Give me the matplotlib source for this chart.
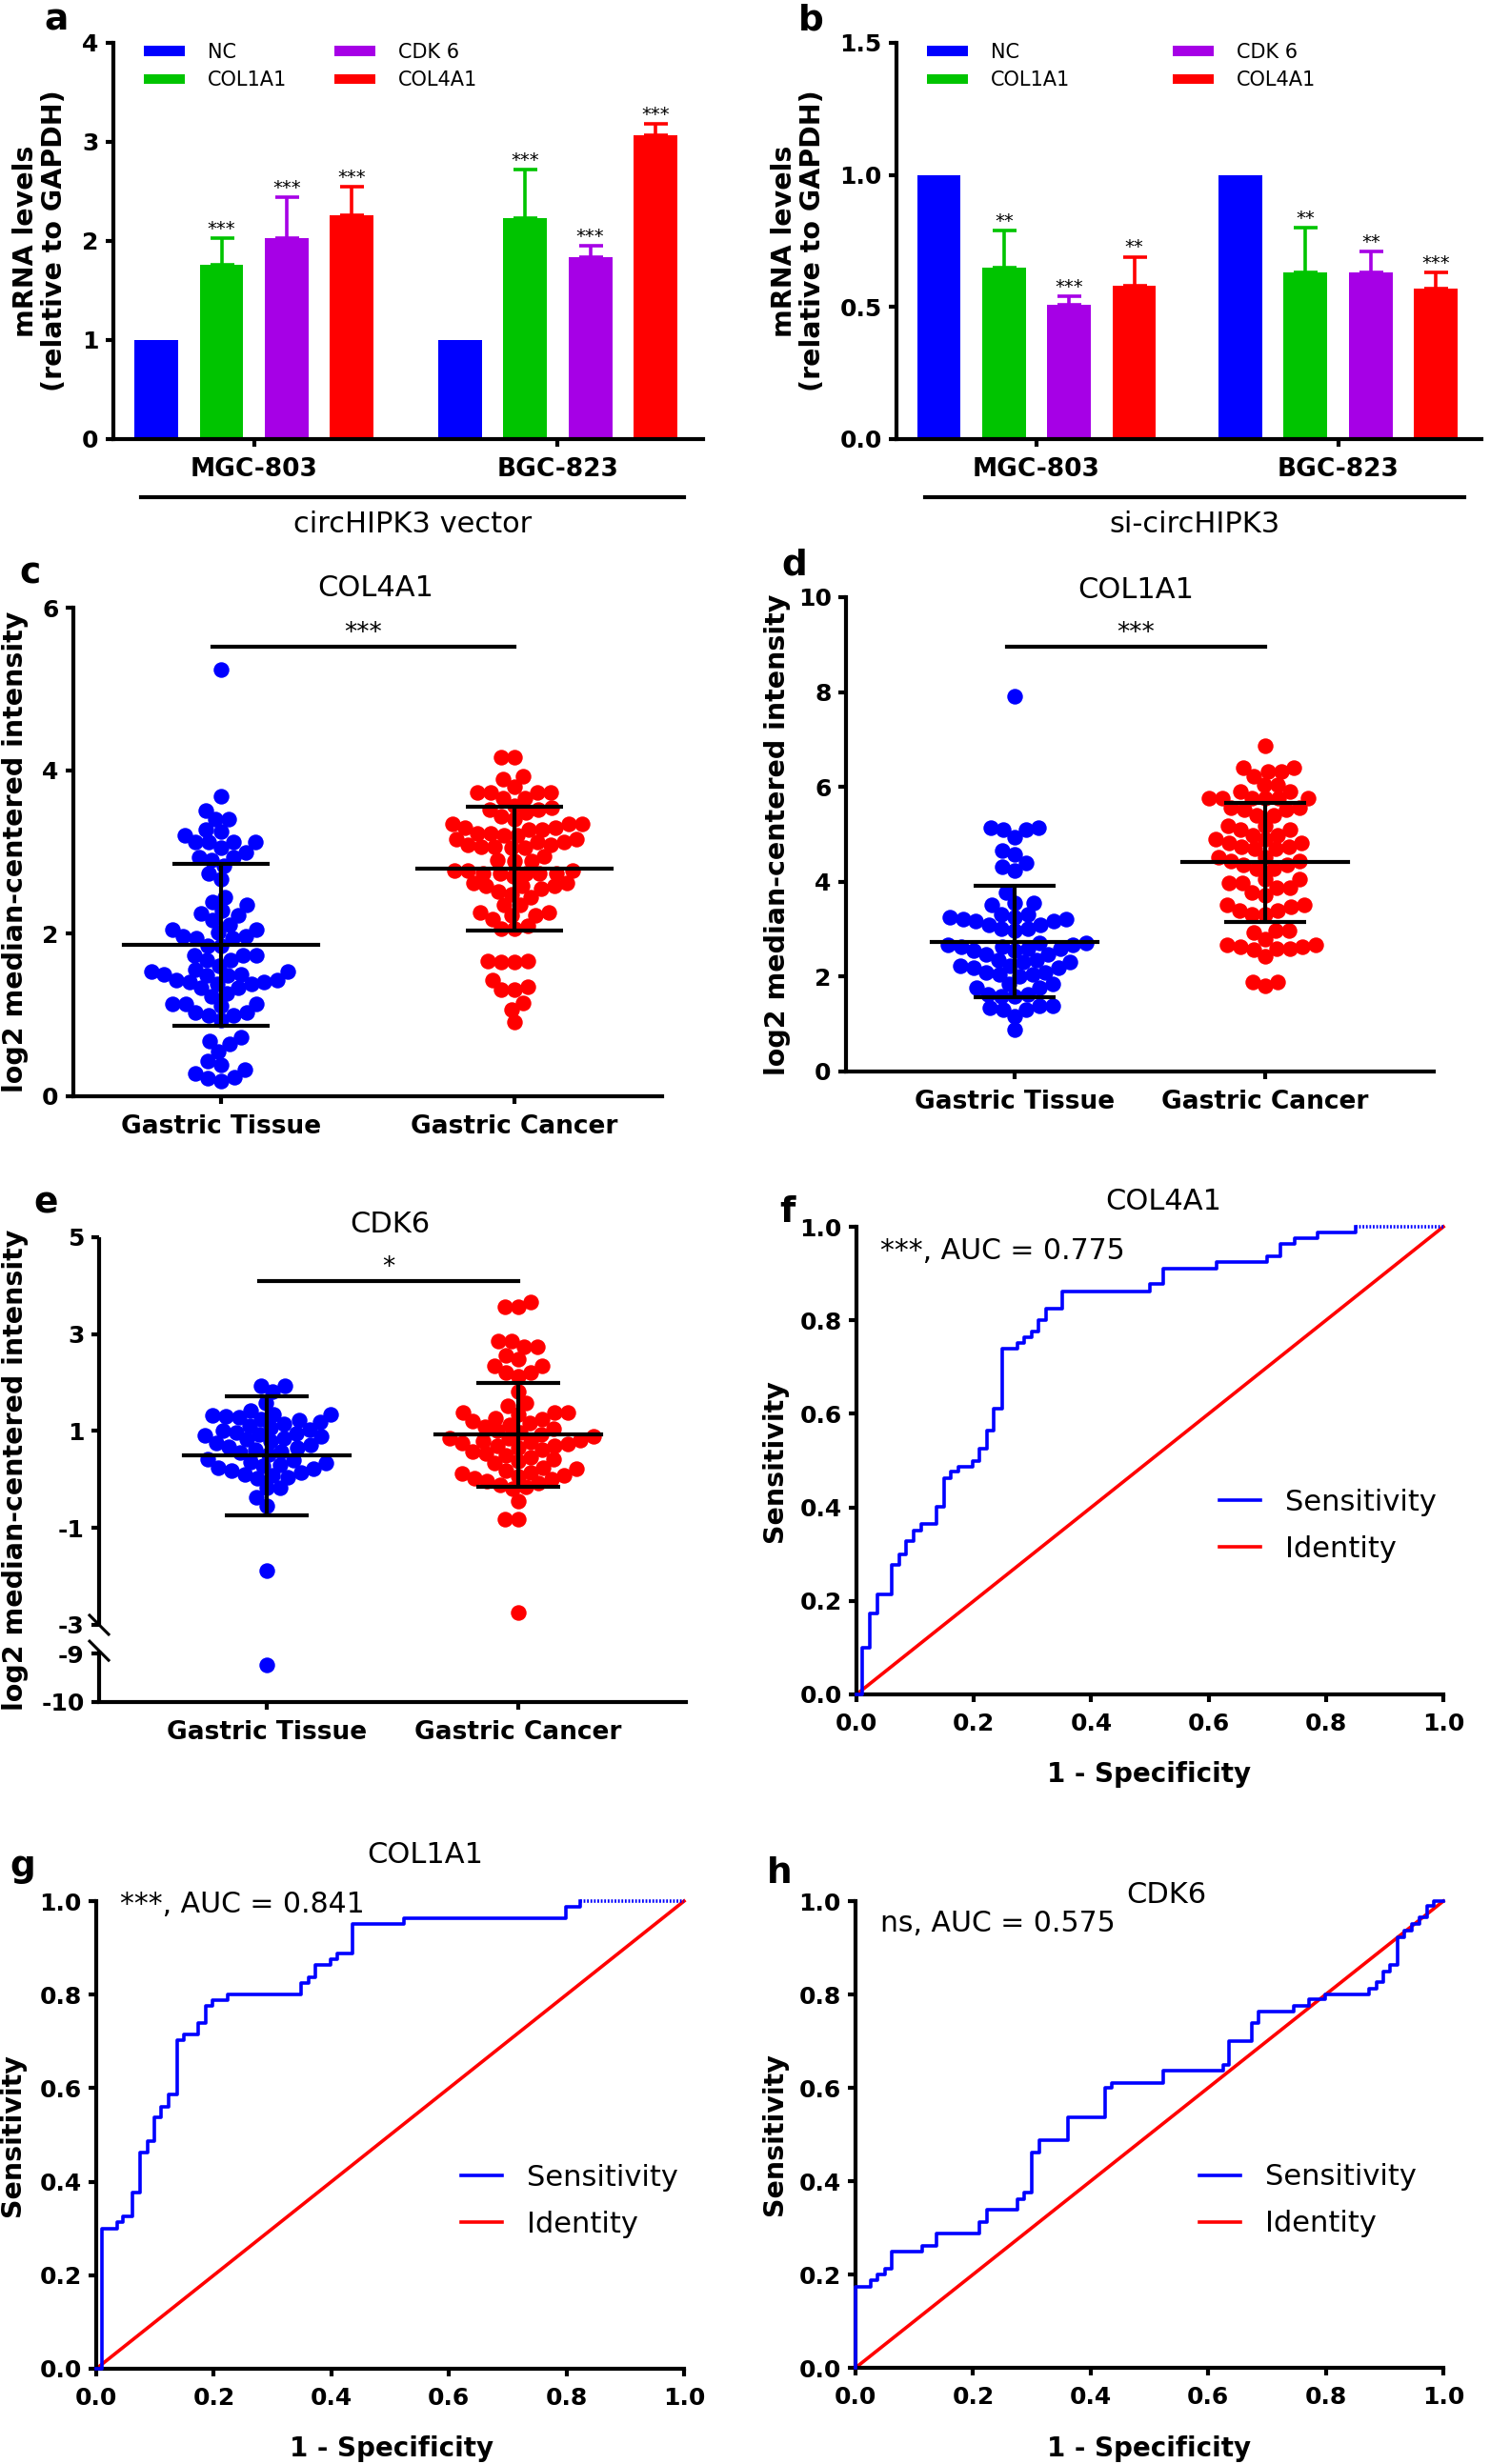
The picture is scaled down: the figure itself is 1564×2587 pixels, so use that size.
import numpy as np
import matplotlib
matplotlib.use("Agg")
import matplotlib.pyplot as plt
import matplotlib.transforms as mtransforms
from matplotlib.lines import Line2D

plt.rcParams['font.family'] = ['DejaVu Sans']

# ---------------- a / b : qPCR bars ----------------
genes = ['NC', 'COL1A1', 'CDK 6', 'COL4A1']
gene_colors = ['#0000ff', '#00c400', '#a600e6', '#ff0000']
cell_lines = ['MGC-803', 'BGC-823']

a_mgc = [1.00, 1.76, 2.03, 2.26]
a_mgc_err = [0.00, 0.27, 0.41, 0.29]
a_bgc = [1.00, 2.23, 1.84, 3.07]
a_bgc_err = [0.00, 0.49, 0.11, 0.11]
a_mgc_sig = ['', '***', '***', '***']
a_bgc_sig = ['', '***', '***', '***']

b_mgc = [1.00, 0.65, 0.51, 0.58]
b_mgc_err = [0.00, 0.14, 0.03, 0.11]
b_bgc = [1.00, 0.63, 0.63, 0.57]
b_bgc_err = [0.00, 0.17, 0.08, 0.06]
b_mgc_sig = ['', '**', '***', '**']
b_bgc_sig = ['', '**', '**', '***']

# ---------------- c / d / e : dot plots ----------------
groups = ['Gastric Tissue', 'Gastric Cancer']
dot_colors = ['#0000ff', '#ff0000']

c_tissue = [5.24, 3.69, 3.51, 3.40, 3.40, 3.28, 3.25, 3.21, 3.12, 3.12, 3.12, 3.12, 3.05,
            3.00, 2.94, 2.94, 2.90, 2.83, 2.74, 2.67, 2.44, 2.39, 2.35, 2.28, 2.24, 2.22,
            2.16, 2.10, 2.05, 2.05, 2.01, 1.96, 1.96, 1.94, 1.94, 1.85, 1.85, 1.73, 1.73,
            1.73, 1.67, 1.67, 1.60, 1.56, 1.53, 1.53, 1.50, 1.50, 1.48, 1.48, 1.43, 1.43,
            1.40, 1.40, 1.38, 1.38, 1.33, 1.33, 1.26, 1.23, 1.14, 1.14, 1.14, 1.11, 1.03,
            1.03, 0.99, 0.99, 0.94, 0.72, 0.68, 0.64, 0.55, 0.43, 0.39, 0.33, 0.28, 0.23,
            0.22, 0.19]
c_cancer = [4.16, 4.16, 3.93, 3.89, 3.80, 3.73, 3.73, 3.73, 3.73, 3.66, 3.66, 3.57, 3.54,
            3.52, 3.52, 3.49, 3.44, 3.40, 3.34, 3.34, 3.34, 3.30, 3.30, 3.27, 3.27, 3.23,
            3.23, 3.20, 3.20, 3.16, 3.16, 3.12, 3.12, 3.09, 3.09, 3.06, 3.06, 3.05, 3.05,
            2.95, 2.90, 2.89, 2.89, 2.77, 2.77, 2.77, 2.74, 2.74, 2.74, 2.74, 2.74, 2.70,
            2.62, 2.62, 2.58, 2.58, 2.58, 2.55, 2.52, 2.48, 2.45, 2.35, 2.35, 2.26, 2.26,
            2.22, 2.22, 2.18, 2.09, 2.06, 2.06, 1.66, 1.66, 1.65, 1.65, 1.43, 1.35, 1.31,
            1.31, 1.15, 1.07, 0.91]
c_mean = [1.86, 2.79]
c_sd = [0.99, 0.76]

d_tissue = [7.92, 5.15, 5.15, 5.10, 5.10, 4.94, 4.66, 4.58, 4.39, 4.31, 4.23, 3.77, 3.56,
            3.56, 3.51, 3.31, 3.31, 3.26, 3.26, 3.22, 3.22, 3.18, 3.18, 3.10, 3.10, 3.01,
            3.01, 2.97, 2.72, 2.72, 2.68, 2.68, 2.64, 2.64, 2.59, 2.59, 2.55, 2.55, 2.47,
            2.47, 2.34, 2.34, 2.30, 2.30, 2.22, 2.22, 2.18, 2.18, 2.09, 2.09, 2.05, 2.05,
            2.01, 1.84, 1.84, 1.76, 1.76, 1.63, 1.63, 1.59, 1.59, 1.38, 1.38, 1.34, 1.30,
            1.30, 1.17, 0.88]
d_cancer = [6.86, 6.40, 6.40, 6.32, 6.32, 6.23, 6.05, 6.05, 5.90, 5.90, 5.77, 5.77, 5.77,
            5.77, 5.77, 5.77, 5.56, 5.56, 5.52, 5.52, 5.40, 5.40, 5.19, 5.19, 5.10, 5.10,
            4.98, 4.98, 4.90, 4.90, 4.81, 4.81, 4.73, 4.73, 4.69, 4.69, 4.52, 4.52, 4.43,
            4.43, 4.35, 4.35, 4.27, 4.27, 4.06, 4.06, 3.97, 3.97, 3.87, 3.87, 3.77, 3.71,
            3.51, 3.51, 3.47, 3.39, 3.39, 3.31, 3.31, 2.97, 2.97, 2.93, 2.80, 2.68, 2.68,
            2.64, 2.64, 2.59, 2.59, 2.57, 2.43, 1.88, 1.88, 1.80]
d_mean = [2.74, 4.41]
d_sd = [1.17, 1.25]

e_tissue = [1.93, 1.93, 1.81, 1.57, 1.42, 1.34,
            1.35, 1.33, 1.31, 1.28, 1.25, 1.22, 1.19, 1.15, 1.11, 1.07, 1.03, 1.00, 0.97, 0.95,
            0.93, 0.91, 0.88, 0.85, 0.82, 0.79, 0.76, 0.72, 0.68, 0.65, 0.61, 0.58, 0.55, 0.52,
            0.41, 0.39, 0.36, 0.33, 0.30, 0.27, 0.24, 0.21, 0.18, 0.15, 0.11, 0.08, 0.05, 0.02,
            -0.17, -0.17, -0.37, -0.55, -1.89, -9.24]
e_cancer = [3.67, 3.56, 3.56, 2.85, 2.85, 2.73, 2.73, 2.56, 2.48, 2.34, 2.34, 2.20, 2.20,
            2.12, 1.81, 1.57, 1.52, 1.38, 1.38, 1.38, 1.34,
            1.27, 1.24, 1.20, 1.16, 1.12, 1.08, 1.04, 1.00, 0.96, 0.92, 0.88, 0.84, 0.80, 0.75, 0.70,
            0.85, 0.81, 0.77, 0.73, 0.69, 0.65, 0.61, 0.57, 0.53, 0.49, 0.45, 0.41, 0.37, 0.33,
            0.24, 0.21, 0.18, 0.15, 0.12, 0.09, 0.06, 0.03, 0.00, -0.04, -0.08, -0.12, -0.16, -0.20,
            -0.45, -0.82, -0.82, -2.75]
e_mean = [0.49, 0.92]
e_sd = [1.23, 1.07]

# ---------------- f / g / h : ROC curves ----------------
f_fpr = [0, 0.010, 0.023, 0.036, 0.060, 0.073, 0.085, 0.097, 0.111, 0.137, 0.149, 0.161,
         0.173, 0.198, 0.210, 0.222, 0.234, 0.248, 0.274, 0.286, 0.298, 0.310, 0.323, 0.351,
         0.500, 0.523, 0.613, 0.699, 0.723, 0.746, 0.786, 0.851]
f_tpr = [0, 0.099, 0.174, 0.213, 0.278, 0.299, 0.327, 0.351, 0.364, 0.401, 0.463, 0.476,
         0.487, 0.500, 0.526, 0.564, 0.612, 0.739, 0.752, 0.763, 0.775, 0.801, 0.825, 0.862,
         0.877, 0.911, 0.924, 0.937, 0.963, 0.976, 0.987, 1.0]
g_fpr = [0, 0.010, 0.035, 0.046, 0.062, 0.074, 0.088, 0.099, 0.111, 0.123, 0.137, 0.149,
         0.174, 0.186, 0.198, 0.223, 0.349, 0.361, 0.373, 0.398, 0.410, 0.436, 0.524, 0.799,
         0.823]
g_tpr = [0, 0.300, 0.314, 0.325, 0.376, 0.462, 0.487, 0.538, 0.561, 0.586, 0.702, 0.714,
         0.739, 0.776, 0.789, 0.801, 0.825, 0.838, 0.863, 0.875, 0.889, 0.951, 0.963, 0.988,
         1.0]
h_fpr = [0, 0.0, 0.026, 0.038, 0.050, 0.062, 0.113, 0.137, 0.211, 0.223, 0.275, 0.287,
         0.300, 0.312, 0.362, 0.424, 0.436, 0.523, 0.626, 0.635, 0.674, 0.686, 0.746, 0.772,
         0.799, 0.874, 0.886, 0.898, 0.910, 0.922, 0.934, 0.946, 0.960, 0.972, 0.984, 1.0]
h_tpr = [0, 0.174, 0.188, 0.200, 0.213, 0.250, 0.262, 0.287, 0.313, 0.339, 0.362, 0.376,
         0.461, 0.488, 0.537, 0.599, 0.611, 0.636, 0.650, 0.701, 0.738, 0.763, 0.775, 0.789,
         0.801, 0.812, 0.826, 0.849, 0.863, 0.923, 0.937, 0.951, 0.965, 0.990, 1.0, 1.0]
roc_ticks = [0.0, 0.2, 0.4, 0.6, 0.8, 1.0]

# ---------------- layout helpers ----------------
W, H = 1564, 2587
LW = 3.0
TICK_FS = 18
fig = plt.figure(figsize=(W / 100, H / 100), dpi=100)


def add_axes(box):
    x0, y0, x1, y1 = box
    return fig.add_axes([x0 / W, 1 - y1 / H, (x1 - x0) / W, (y1 - y0) / H])


def to_ax(box, x, y):
    x0, y0, x1, y1 = box
    return (x - x0) / (x1 - x0), (y1 - y) / (y1 - y0)


def fig_text(x, y, s, **kw):
    fig.text(x / W, 1 - y / H, s, **kw)


def style_axes(ax):
    ax.spines[['top', 'right']].set_visible(False)
    ax.spines[['left', 'bottom']].set_linewidth(LW)
    ax.tick_params(width=LW, length=6, direction='out')
    ax.tick_params(axis='x', pad=8)
    ax.tick_params(axis='y', pad=5)


def set_ylabel(ax, box, text, xpx, size=20.5):
    ax.set_ylabel(text, fontsize=size, fontweight='bold', va='center', linespacing=1.05)
    ax.yaxis.set_label_coords(to_ax(box, xpx, 0)[0], 0.5)


def swarm_x(ax, xc, vals, dist):
    pts = ax.transData.transform(np.column_stack([np.full(len(vals), float(xc)), vals]))
    ys = pts[:, 1]
    px_per_x = ax.transData.transform((1, 0))[0] - ax.transData.transform((0, 0))[0]
    offs = np.zeros(len(vals))
    placed = []
    for i in np.argsort(ys, kind='stable'):
        y = ys[i]
        near = [(px, py) for px, py in placed if abs(py - y) < dist]
        cands = [0.0]
        for px, py in near:
            dx = np.sqrt(dist ** 2 - (py - y) ** 2)
            cands += [px - dx, px + dx]
        cands.sort(key=abs)
        for c in cands:
            if all((c - px) ** 2 + (y - py) ** 2 >= dist ** 2 - 1e-6 for px, py in near):
                break
        offs[i] = c
        placed.append((c, y))
    return xc + offs / px_per_x


# ---------------- bar panels ----------------
def bar_panel(box, means, errs, sigs, gap, xlim, ylim, yticks, yfmt, leg_x, colsp,
              bracket, group_label, label_x):
    ax = add_axes(box)
    style_axes(ax)
    ax.set_xlim(xlim)
    ax.set_ylim(ylim)
    centers = np.array([0.0, gap])
    offsets = np.arange(len(genes)) - (len(genes) - 1) / 2
    for g, c in enumerate(centers):
        xs = c + offsets
        for k in range(len(genes)):
            ax.bar(xs[k], means[g][k], width=0.67, color=gene_colors[k], zorder=2,
                   label=genes[k] if g == 0 else None)
            if errs[g][k] > 0:
                ax.errorbar(xs[k], means[g][k], yerr=[[0], [errs[g][k]]], fmt='none',
                            ecolor=gene_colors[k], elinewidth=2.6, capsize=9, capthick=2.6,
                            zorder=1)
            if sigs[g][k]:
                ax.annotate(sigs[g][k], (xs[k], means[g][k] + errs[g][k]), xytext=(0, 3),
                            textcoords='offset points', ha='center', va='baseline',
                            fontsize=14)
    ax.set_xticks(centers)
    ax.set_xticklabels(cell_lines, fontsize=19, fontweight='bold')
    ax.set_yticks(yticks)
    ax.set_yticklabels([yfmt.format(t) for t in yticks], fontsize=TICK_FS, fontweight='bold')
    set_ylabel(ax, box, 'mRNA levels\n(relative to GAPDH)', label_x)
    ax.legend(ncol=2, loc='upper left', bbox_to_anchor=(leg_x, 1.0), frameon=False,
              fontsize=15, handlelength=2.05, handleheight=0.4, handletextpad=1.15,
              columnspacing=colsp, labelspacing=0.45, borderpad=0, borderaxespad=0)
    ax.plot(bracket, [-0.147, -0.147], transform=ax.transAxes, color='k', lw=LW,
            clip_on=False)
    ax.text(sum(bracket) / 2, -0.216, group_label, transform=ax.transAxes, ha='center',
            va='center', fontsize=22)
    return ax


box_a = (119, 45, 738, 461)
bar_panel(box_a, [a_mgc, a_bgc], [a_mgc_err, a_bgc_err], [a_mgc_sig, a_bgc_sig], 4.66,
          (-2.16, 6.89), (0, 4), [0, 1, 2, 3, 4], '{:d}', 0.052, 2.4, [0.047, 0.968],
          'circHIPK3 vector', 42)
box_b = (941, 45, 1555, 461)
bar_panel(box_b, [b_mgc, b_bgc], [b_mgc_err, b_bgc_err], [b_mgc_sig, b_bgc_sig], 4.63,
          (-2.15, 6.83), (0, 1.5), [0.0, 0.5, 1.0, 1.5], '{:.1f}', 0.052, 5.2,
          [0.049, 0.971], 'si-circHIPK3', 838)


# ---------------- dot plot panels ----------------
def dot_panel(box, data, means, sds, sig, sig_y, xlim, ylim, yticks, title, title_px,
              scale=None):
    ax = add_axes(box)
    style_axes(ax)
    if scale is not None:
        ax.set_yscale('function', functions=scale)
    ax.set_xlim(xlim)
    ax.set_ylim(ylim)
    px_per_x = ax.transData.transform((1, 0))[0] - ax.transData.transform((0, 0))[0]
    cap_pt = 0.165 * px_per_x * 72 / 100
    for k, vals in enumerate(data):
        xs = swarm_x(ax, k, np.array(vals), 14)
        ax.scatter(xs, vals, s=140, color=dot_colors[k], linewidths=0, zorder=2,
                   clip_on=False)
        ax.plot([k - 0.33, k + 0.33], [means[k], means[k]], color='k', lw=LW, zorder=3)
        ax.errorbar(k, means[k], yerr=sds[k], fmt='none', ecolor='k', elinewidth=LW,
                    capsize=cap_pt, capthick=LW, zorder=3)
    ax.plot([-0.03, 1.0], [sig_y, sig_y], color='k', lw=LW, zorder=3)
    ax.annotate(sig, (0.485, sig_y), xytext=(0, 5), textcoords='offset points',
                ha='center', va='baseline', fontsize=19)
    ax.set_xticks([0, 1])
    ax.set_xticklabels(groups, fontsize=19, fontweight='bold')
    ax.set_yticks(yticks)
    ax.set_yticklabels([str(t) for t in yticks], fontsize=TICK_FS, fontweight='bold')
    tx, ty = to_ax(box, *title_px)
    ax.text(tx, ty, title, transform=ax.transAxes, ha='center', va='center', fontsize=22)
    return ax


box_c = (77, 638, 695, 1151)
ax_c = dot_panel(box_c, [c_tissue, c_cancer], c_mean, c_sd, '***', 5.52,
                 (-0.503, 1.503), (0, 6), [0, 2, 4, 6], 'COL4A1', (394, 618))
set_ylabel(ax_c, box_c, 'log2 median-centered intensity', 16)

box_d = (888, 627, 1505, 1125)
ax_d = dot_panel(box_d, [d_tissue, d_cancer], d_mean, d_sd, '***', 8.96,
                 (-0.673, 1.673), (0, 10), [0, 2, 4, 6, 8, 10], 'COL1A1', (1192, 620))
set_ylabel(ax_d, box_d, 'log2 median-centered intensity', 816)

# broken y axis for panel e: [-10,-9] joined to [-3,5]
GAP = 0.6


def e_fwd(y):
    y = np.asarray(y, dtype=float)
    return np.where(y >= -3, y, np.where(y <= -9, y + 6 - GAP, -3 - GAP * (-3 - y) / 6))


def e_inv(u):
    u = np.asarray(u, dtype=float)
    return np.where(u >= -3, u, np.where(u <= -3 - GAP, u - 6 + GAP, -3 - (-3 - u) * 6 / GAP))


box_e = (104, 1299, 720, 1787)
ax_e = dot_panel(box_e, [e_tissue, e_cancer], e_mean, e_sd, '*', 4.1,
                 (-0.667, 1.667), (-10, 5), [5, 3, 1, -1, -3, -9, -10], 'CDK6', (409, 1286),
                 scale=(e_fwd, e_inv))
set_ylabel(ax_e, box_e, 'log2 median-centered intensity', 16)
ax_e.spines['left'].set_visible(False)
trans_e = mtransforms.blended_transform_factory(ax_e.transAxes, ax_e.transData)
ax_e.plot([0, 0], [5, -3.05], transform=trans_e, color='k', lw=LW, clip_on=False,
          solid_capstyle='butt')
ax_e.plot([0, 0], [-8.4, -10], transform=trans_e, color='k', lw=LW, clip_on=False,
          solid_capstyle='butt')
for yb in (-3.05, -8.4):
    cx, cy = trans_e.transform((0, yb))
    fig.add_artist(Line2D([cx - 10, cx + 10], [cy + 10, cy - 10],
                          transform=mtransforms.IdentityTransform(), color='k', lw=2.2))


# ---------------- ROC panels ----------------
def roc_panel(box, fpr, tpr, auc_text, auc_px, title, title_px, leg_xy, ylabel_x, xlabel_px):
    ax = add_axes(box)
    style_axes(ax)
    ax.set_xlim(0, 1)
    ax.set_ylim(0, 1)
    ax.plot(fpr, tpr, drawstyle='steps-post', color='#0000ff', lw=2.6, clip_on=False,
            zorder=3, label='Sensitivity')
    if fpr[-1] < 1:
        ax.plot([fpr[-1], 1], [tpr[-1], tpr[-1]], color='#0000ff', lw=2.6,
                ls=(0, (0.5, 0.5)), clip_on=False, zorder=3)
    ax.plot([0, 1], [0, 1], color='#ff0000', lw=2.6, clip_on=False, zorder=2,
            label='Identity')
    ax.set_xticks(roc_ticks)
    ax.set_xticklabels(['{:.1f}'.format(t) for t in roc_ticks], fontsize=TICK_FS,
                       fontweight='bold')
    ax.set_yticks(roc_ticks)
    ax.set_yticklabels(['{:.1f}'.format(t) for t in roc_ticks], fontsize=TICK_FS,
                       fontweight='bold')
    set_ylabel(ax, box, 'Sensitivity', ylabel_x)
    ax.set_xlabel('1 - Specificity', fontsize=20, fontweight='bold', va='center')
    ax.xaxis.set_label_coords(*to_ax(box, *xlabel_px))
    ax.legend(loc='upper left', bbox_to_anchor=leg_xy, frameon=False, fontsize=22,
              handlelength=1.4, handletextpad=0.85, labelspacing=0.65, borderpad=0,
              borderaxespad=0)
    ax_x, ax_y = to_ax(box, *auc_px)
    ax.text(ax_x, ax_y, auc_text, transform=ax.transAxes, ha='left', va='center',
            fontsize=21.5)
    tx, ty = to_ax(box, *title_px)
    ax.text(tx, ty, title, transform=ax.transAxes, ha='center', va='center', fontsize=22)
    return ax


box_f = (899, 1288, 1515, 1779)
roc_panel(box_f, f_fpr, f_tpr, '***, AUC = 0.775', (924, 1313), 'COL4A1', (1221, 1262),
          (0.619, 0.44), 813, (1206, 1863))
box_g = (101, 1996, 718, 2487)
roc_panel(box_g, g_fpr, g_tpr, '***, AUC = 0.841', (126, 1999), 'COL1A1', (446, 1948),
          (0.621, 0.438), 13, (411, 2571))
box_h = (898, 1996, 1515, 2486)
roc_panel(box_h, h_fpr, h_tpr, 'ns, AUC = 0.575', (924, 2020), 'CDK6', (1224, 1989),
          (0.585, 0.438), 813, (1206, 2571))

# ---------------- panel letters ----------------
for letter, x, y in [('a', 46, 32), ('b', 838, 31), ('c', 20, 612), ('d', 820, 604),
                     ('e', 35, 1274), ('f', 818, 1283), ('g', 10, 1970), ('h', 805, 1977)]:
    fig_text(x, y, letter, fontsize=27, fontweight='bold', ha='left', va='baseline')

fig.savefig('out.png', dpi=100)
